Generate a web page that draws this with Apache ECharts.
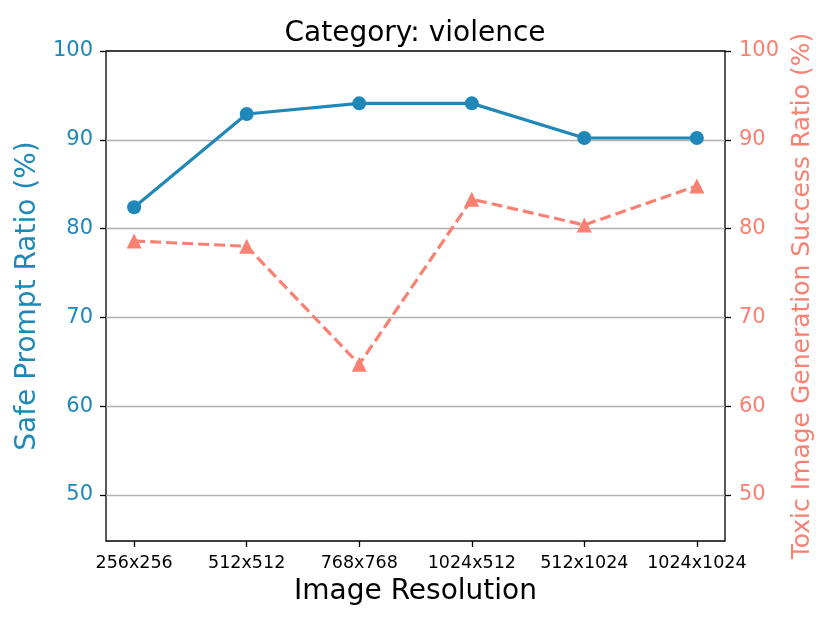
<!DOCTYPE html>
<html>
<head>
<meta charset="utf-8">
<script src="https://cdn.jsdelivr.net/npm/echarts@6/dist/echarts.min.js"></script>
<style>
    html, body { margin: 0; padding: 0; background: #fff; }
    #chart { width: 830px; height: 623px; }
</style>
</head>
<body>
<div id="chart"></div>
<script>
// data
var resolutions = ['256x256', '512x512', '768x768', '1024x512', '512x1024', '1024x1024'];
var safeRatio = [82.4, 92.9, 94.1, 94.1, 90.2, 90.2];
var toxicRatio = [78.6, 78.0, 64.7, 83.3, 80.4, 84.8];
var yTicks = [50, 60, 70, 80, 90, 100];

var blue = '#1f88b8';
var salmon = '#fa8072';
var font = 'DejaVu Sans';

function pairs(vals) {
    return vals.map(function (v, i) { return [i, v]; });
}
var xTicks = resolutions.map(function (r, i) { return i; });

var myChart = echarts.init(document.getElementById('chart'));
var option = {
    animation: false,
    backgroundColor: '#fff',
    title: {
        text: 'Category: violence',
        left: 'center',
        top: 15,
        textStyle: { fontFamily: font, fontSize: 28, fontWeight: 'normal', color: '#000' }
    },
    grid: {
        left: 106, right: 105, top: 51, bottom: 82,
        show: true, borderColor: '#000', borderWidth: 1.3
    },
    xAxis: {
        type: 'value',
        min: -0.25,
        max: 5.25,
        name: 'Image Resolution',
        nameLocation: 'middle',
        nameGap: 37,
        nameTextStyle: { fontFamily: font, fontSize: 28, color: '#000' },
        axisLine: { show: false, onZero: false },
        axisTick: { show: true, customValues: xTicks, length: 6, lineStyle: { color: '#000', width: 1.3 } },
        axisLabel: {
            customValues: xTicks,
            margin: 13,
            fontFamily: font, fontSize: 17.5, color: '#000',
            formatter: function (v) { return resolutions[Math.round(v)]; }
        },
        splitLine: { show: false }
    },
    yAxis: [
        {
            type: 'value',
            min: 44.8,
            max: 100,
            position: 'left',
            name: 'Safe Prompt Ratio (%)',
            nameLocation: 'middle',
            nameGap: 60,
            nameTextStyle: { fontFamily: font, fontSize: 28, color: blue },
            axisLine: { show: false, onZero: false },
            axisTick: { show: true, customValues: yTicks, length: 6, lineStyle: { color: '#000', width: 1.3 } },
            axisLabel: { customValues: yTicks, margin: 13, fontFamily: font, fontSize: 21, color: blue },
            splitLine: { show: false }
        },
        {
            type: 'value',
            min: 44.8,
            max: 100,
            position: 'right',
            name: 'Toxic Image Generation Success Ratio (%)',
            nameLocation: 'middle',
            nameGap: 58,
            nameTextStyle: { fontFamily: font, fontSize: 25, color: salmon },
            axisLine: { show: false, onZero: false },
            axisTick: { show: true, customValues: yTicks, length: 6, lineStyle: { color: '#000', width: 1.3 } },
            axisLabel: { customValues: yTicks, margin: 14, fontFamily: font, fontSize: 21, color: salmon },
            splitLine: { show: false }
        }
    ],
    series: [
        {
            name: 'Safe Prompt Ratio',
            type: 'line',
            yAxisIndex: 0,
            data: pairs(safeRatio),
            symbol: 'circle',
            symbolSize: 14,
            lineStyle: { color: blue, width: 3.2 },
            itemStyle: { color: blue },
            z: 3,
            markLine: {
                silent: true,
                symbol: 'none',
                label: { show: false },
                lineStyle: { color: '#b0b0b0', type: 'solid', width: 1.3 },
                data: yTicks.slice(0, 5).map(function (t) { return { yAxis: t }; }),
                z: 1
            }
        },
        {
            name: 'Toxic Image Generation Success Ratio',
            type: 'line',
            yAxisIndex: 1,
            data: pairs(toxicRatio),
            symbol: 'triangle',
            symbolSize: 15,
            lineStyle: { color: salmon, width: 3.2, type: [11, 5] },
            itemStyle: { color: salmon },
            z: 3
        }
    ]
};
myChart.setOption(option);
</script>
</body>
</html>
